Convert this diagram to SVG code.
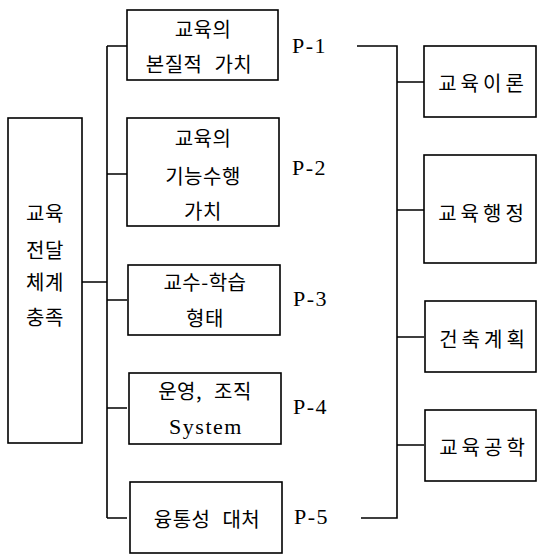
<svg xmlns="http://www.w3.org/2000/svg" width="537" height="557" viewBox="0 0 537 557">
<style>
.box{fill:#fff;stroke:#000;stroke-width:1.6}
.ln{fill:none;stroke:#000;stroke-width:1.6}
.k{font-family:"Noto Sans CJK KR","Noto Sans",sans-serif;font-size:20px;fill:#000;text-anchor:middle;dominant-baseline:central;letter-spacing:0.5px;word-spacing:7px}
.kr{letter-spacing:4px}
.p{font-family:"Liberation Serif",serif;font-size:22px;fill:#000;dominant-baseline:central;letter-spacing:1.5px}
.s{font-family:"Liberation Serif",serif;font-size:22px;fill:#000;text-anchor:middle;dominant-baseline:central;letter-spacing:1.5px}
</style>
<rect width="537" height="557" fill="#fff"/>
<g id="connectors">
<path class="ln" d="M82 282H107M107 46V518M107 46H127M107 174H127M107 300H127M107 408H127M107 518H127"/>
<path class="ln" d="M357 46H397V518H361M397 82H424M397 210H424M397 337H424M397 445H424"/>
</g>
<g id="root"><rect class="box" x="8" y="118" width="74" height="325"/>
<text class="k" x="45" y="212">교육</text><text class="k" x="45" y="249">전달</text><text class="k" x="45" y="281">체계</text><text class="k" x="45" y="316">충족</text></g>
<g id="m1"><rect class="box" x="127" y="10" width="151" height="70"/>
<text class="k" x="203" y="28">교육의</text><text class="k" x="199" y="63">본질적 가치</text></g>
<g id="m2"><rect class="box" x="127" y="118" width="152" height="108"/>
<text class="k" x="203" y="137">교육의</text><text class="k" x="203" y="175">기능수행</text><text class="k" x="203" y="210">가치</text></g>
<g id="m3"><rect class="box" x="128" y="265" width="152" height="70"/>
<text class="k" x="205" y="281">교수-학습</text><text class="k" x="205" y="317">형태</text></g>
<g id="m4"><rect class="box" x="129" y="373" width="152" height="71"/>
<text class="k" x="205" y="390">운영, 조직</text><text class="s" x="206" y="426">System</text></g>
<g id="m5"><rect class="box" x="130" y="482" width="152" height="71"/>
<text class="k" x="207" y="518">융통성 대처</text></g>
<g id="plabels">
<text class="p" x="292" y="45">P-1</text>
<text class="p" x="292" y="167">P-2</text>
<text class="p" x="293" y="298">P-3</text>
<text class="p" x="293" y="406">P-4</text>
<text class="p" x="294" y="516">P-5</text>
</g>
<g id="r1"><rect class="box" x="424" y="46" width="112" height="71"/><text class="k kr" x="483" y="82">교육이론</text></g>
<g id="r2"><rect class="box" x="424" y="155" width="112" height="108"/><text class="k kr" x="483" y="212">교육행정</text></g>
<g id="r3"><rect class="box" x="425" y="301" width="111" height="71"/><text class="k kr" x="484" y="338">건축계획</text></g>
<g id="r4"><rect class="box" x="425" y="410" width="111" height="71"/><text class="k kr" x="484" y="446">교육공학</text></g>
</svg>
